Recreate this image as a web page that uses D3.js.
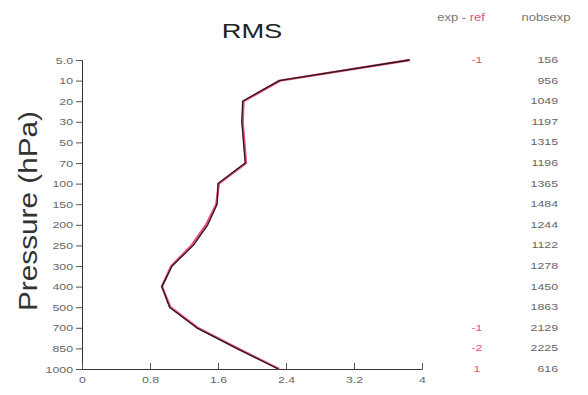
<!DOCTYPE html>
<html><head><meta charset="utf-8">
<script src="https://cdn.jsdelivr.net/npm/d3@7"></script>
<style>body{margin:0;background:#fff;}svg{display:block;font-family:"Liberation Sans",Arial,sans-serif;}</style>
</head><body><svg id="c" width="588" height="395"></svg>
<script>
const levels = ["5.0","10","20","30","50","70","100","150","200","250","300","400","500","700","850","1000"];
const rmsExp = [3.85,2.32,1.89,1.88,1.90,1.92,1.60,1.59,1.48,1.31,1.06,0.94,1.03,1.35,1.82,2.31];
const rmsRef = [3.86,2.33,1.90,1.89,1.91,1.93,1.61,1.58,1.46,1.29,1.05,0.94,1.04,1.36,1.83,2.32];
const diffLabels = ["-1","","","","","","","","","","","","","-1","-2","1"];
const nobsExp = [156,956,1049,1197,1315,1196,1365,1484,1244,1122,1278,1450,1863,2129,2225,616];
const xTicks = [0,0.8,1.6,2.4,3.2,4];

const svg = d3.select("#c");
const x = d3.scaleLinear().domain([0,4]).range([82,422]);
const y = d3.scalePoint().domain(levels).range([60,369]);
const pink = "#e8507a";
const SX = 1.3;

function stext(g, px, py, size, anchor, fill, str){
  return g.append("text").attr("transform",`translate(${px},${py}) scale(${SX},1)`)
    .attr("text-anchor",anchor).attr("font-size",size).attr("fill",fill).text(str);
}

stext(svg,252,38,21,"middle","#222","RMS");
svg.append("text").attr("transform","translate(37,211) rotate(-90)").attr("text-anchor","middle")
  .attr("font-size",26).attr("fill","#333").attr("textLength",200).attr("lengthAdjust","spacingAndGlyphs")
  .text("Pressure (hPa)");

const gy = svg.append("g").attr("transform","translate(82,0)")
  .call(d3.axisLeft(y).tickSize(6).tickPadding(3));
gy.select(".domain").attr("stroke","#333");
gy.selectAll(".tick line").attr("stroke","#555");
gy.selectAll("text").attr("font-size",9.5).attr("fill","#666")
  .attr("transform",`scale(${SX},1)`).attr("x",-9/SX);

const gx = svg.append("g").attr("transform","translate(0,369)")
  .call(d3.axisBottom(x).tickValues(xTicks).tickFormat(d=>String(d)).tickSizeInner(-6).tickSizeOuter(0).tickPadding(7));
gx.select(".domain").attr("stroke","#333");
gx.selectAll(".tick line").attr("stroke","#555");
gx.selectAll("text").attr("font-size",9.5).attr("fill","#666").attr("transform",`scale(${SX},1)`);

const line = d3.line().x(d=>x(d.v)).y(d=>y(d.l));
svg.append("path").datum(levels.map((l,i)=>({l,v:rmsRef[i]})))
  .attr("d",line).attr("fill","none").attr("stroke",pink).attr("stroke-width",2.4).attr("stroke-linejoin","round");
svg.append("path").datum(levels.map((l,i)=>({l,v:rmsExp[i]})))
  .attr("d",line).attr("fill","none").attr("stroke","#2a1a1a").attr("stroke-width",1.3).attr("stroke-linejoin","round");

const hdr = svg.append("text").attr("transform",`translate(461,21) scale(${SX},1)`).attr("text-anchor","middle").attr("font-size",10);
hdr.append("tspan").attr("fill","#777").text("exp - ");
hdr.append("tspan").attr("fill",pink).text("ref");
stext(svg,546,21,10,"middle","#777","nobsexp");

const gd = svg.append("g");
levels.forEach((l,i)=>{ if(diffLabels[i]) stext(gd,477,y(l)+3,9.5,"middle",pink,diffLabels[i]); });
const gn = svg.append("g");
levels.forEach((l,i)=>{ stext(gn,558,y(l)+3,9.5,"end","#666",String(nobsExp[i])); });
</script></body></html>
